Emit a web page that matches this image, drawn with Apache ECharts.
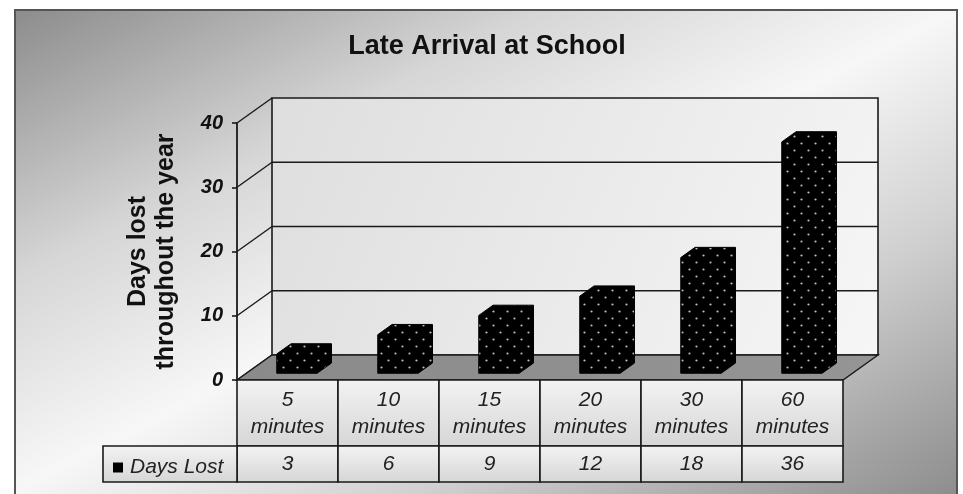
<!DOCTYPE html>
<html>
<head>
<meta charset="utf-8">
<script src="https://cdn.jsdelivr.net/npm/echarts@6/dist/echarts.min.js"></script>
<style>
html,body{margin:0;padding:0;background:#fff;}
#c{width:963px;height:494px;}
</style>
</head>
<body>
<div id="c"></div>
<script>
// ---------- data ----------
const categories = ['5\nminutes', '10\nminutes', '15\nminutes', '20\nminutes', '30\nminutes', '60\nminutes'];
const daysLost = [3, 6, 9, 12, 18, 36];
const yTicks = [0, 10, 20, 30, 40];
const seriesName = 'Days Lost';
const titleText = 'Late Arrival at School';
const yAxisName = 'Days lost\nthroughout the year';

// ---------- layout constants ----------
const FONT = '"Liberation Sans", Arial, sans-serif';
const DX = 35, DY = -25;          // 3D depth offset of the back wall
const BAR_F1 = 0.27, BAR_F2 = 0.68; // bar depth (fraction of box depth)
const BAR_W = 0.40;               // bar front width as fraction of band
const ROW1 = 66, ROW2 = 36;       // data table row heights
const LEGEND_LEFT = 103;
const LINE = '#1a1a1a';

// dotted black fill pattern
const pc = document.createElement('canvas');
pc.width = 14; pc.height = 14;
const g = pc.getContext('2d');
g.fillStyle = '#000'; g.fillRect(0, 0, 14, 14);
g.fillStyle = '#bdbdbd';
g.beginPath(); g.arc(3.5, 3.5, 1.1, 0, Math.PI * 2); g.fill();
g.beginPath(); g.arc(10.5, 10.5, 1.1, 0, Math.PI * 2); g.fill();
const dotPattern = { image: pc, repeat: 'repeat' };

const chart = echarts.init(document.getElementById('c'), null, { renderer: 'canvas' });

function cellFill() {
  return new echarts.graphic.LinearGradient(0, 0, 0, 1, [
    { offset: 0, color: '#f3f3f3' }, { offset: 1, color: '#d6d6d6' }
  ]);
}

function renderWalls(params, api) {
  const cs = params.coordSys;
  const x0 = cs.x, x1 = cs.x + cs.width;
  const yMax = yTicks[yTicks.length - 1];
  const y0 = api.coord([0, 0])[1];
  const yTop = api.coord([0, yMax])[1];
  const bw = api.size([1, 0])[0];
  const ch = [];
  // back wall
  ch.push({
    type: 'polygon',
    shape: { points: [[x0 + DX, yTop + DY], [x1 + DX, yTop + DY], [x1 + DX, y0 + DY], [x0 + DX, y0 + DY]] },
    style: {
      fill: new echarts.graphic.LinearGradient(0, 0, 1, 1, [
        { offset: 0, color: '#dedede' }, { offset: 1, color: '#f6f6f6' }
      ]),
      stroke: LINE, lineWidth: 1.6
    }
  });
  yTicks.forEach(t => {
    const y = api.coord([0, t])[1];
    if (t > 0 && t < yMax) {
      ch.push({ type: 'line', shape: { x1: x0 + DX, y1: y + DY, x2: x1 + DX, y2: y + DY }, style: { stroke: LINE, lineWidth: 1.6 } });
    }
    ch.push({ type: 'line', shape: { x1: x0, y1: y, x2: x0 + DX, y2: y + DY }, style: { stroke: LINE, lineWidth: 1.4 } });
  });
  // floor
  ch.push({
    type: 'polygon',
    shape: { points: [[x0, y0], [x1, y0], [x1 + DX, y0 + DY], [x0 + DX, y0 + DY]] },
    style: {
      fill: new echarts.graphic.LinearGradient(0, 0, 1, 0, [
        { offset: 0, color: '#8a8a8a' }, { offset: 1, color: '#959595' }
      ]),
      stroke: LINE, lineWidth: 1.4
    }
  });
  // data table cells
  for (let i = 0; i < categories.length; i++) {
    const cx = x0 + i * bw;
    ch.push({ type: 'rect', shape: { x: cx, y: y0, width: bw, height: ROW1 }, style: { fill: cellFill(), stroke: LINE, lineWidth: 1.6 } });
    ch.push({ type: 'rect', shape: { x: cx, y: y0 + ROW1, width: bw, height: ROW2 }, style: { fill: cellFill(), stroke: LINE, lineWidth: 1.6 } });
  }
  ch.push({ type: 'rect', shape: { x: LEGEND_LEFT, y: y0 + ROW1, width: x0 - LEGEND_LEFT, height: ROW2 }, style: { fill: cellFill(), stroke: LINE, lineWidth: 1.6 } });
  return { type: 'group', children: ch };
}

function renderBar(params, api) {
  const i = api.value(0), v = api.value(1);
  const base = api.coord([i, 0]);
  const top = api.coord([i, v]);
  const bw = api.size([1, 0])[0];
  const hw = bw * BAR_W / 2;
  const ox1 = DX * BAR_F1, oy1 = DY * BAR_F1, ox2 = DX * BAR_F2, oy2 = DY * BAR_F2;
  const L = base[0] - hw, R = base[0] + hw, yb = base[1], yt = top[1];
  const pts = [
    [L + ox1, yb + oy1], [L + ox1, yt + oy1], [L + ox2, yt + oy2],
    [R + ox2, yt + oy2], [R + ox2, yb + oy2], [R + ox1, yb + oy1]
  ];
  return {
    type: 'polygon',
    shape: { points: pts },
    style: { fill: dotPattern, stroke: '#000', lineWidth: 1, lineJoin: 'round' }
  };
}

function renderValueCell(params, api) {
  const i = api.value(0), v = api.value(1);
  const base = api.coord([i, 0]);
  return {
    type: 'text',
    style: {
      x: base[0], y: base[1] + ROW1 + ROW2 / 2,
      text: String(v),
      align: 'center', verticalAlign: 'middle',
      font: 'italic 21px ' + FONT,
      fill: '#222'
    }
  };
}

const option = {
  animation: false,
  textStyle: { fontFamily: FONT },
  graphic: [{
    type: 'rect', z: -10, silent: true,
    shape: { x: 15, y: 10, width: 942, height: 490 },
    style: {
      fill: new echarts.graphic.LinearGradient(15, 10, 403, 772, [
        { offset: 0, color: '#8c8c8c' },
        { offset: 0.28, color: '#d6d6d6' },
        { offset: 0.5, color: '#f7f7f7' },
        { offset: 0.72, color: '#d0d0d0' },
        { offset: 1, color: '#8e8e8e' }
      ], true),
      stroke: '#555', lineWidth: 2
    }
  }],
  title: {
    text: titleText,
    left: 482, top: 28, textAlign: 'center',
    textStyle: { fontFamily: FONT, fontSize: 27, fontWeight: 'bold', color: '#111' }
  },
  legend: {
    data: [seriesName],
    left: 108, top: 452,
    icon: 'rect', itemWidth: 10, itemHeight: 10,
    textStyle: { fontFamily: FONT, fontSize: 21, fontStyle: 'italic', color: '#222', padding: [0, 0, 0, 2] },
    selectedMode: false
  },
  grid: { left: 237, right: 120, top: 123, bottom: 114, containLabel: false },
  xAxis: {
    type: 'category',
    data: categories,
    z: 10,
    axisLine: { show: false },
    axisTick: { show: false },
    splitLine: { show: false },
    axisLabel: {
      interval: 0, margin: 7,
      fontFamily: FONT, fontSize: 21, fontStyle: 'italic', lineHeight: 27, color: '#222'
    }
  },
  yAxis: {
    type: 'value', min: 0, max: 40, interval: 10,
    axisLine: { show: true, lineStyle: { color: LINE, width: 1.8 } },
    axisTick: { show: true, length: 5, lineStyle: { color: LINE, width: 1.6 } },
    splitLine: { show: false },
    axisLabel: { margin: 14, fontFamily: FONT, fontSize: 20, fontWeight: 'bold', fontStyle: 'italic', color: '#111' },
    name: yAxisName,
    nameLocation: 'middle',
    nameGap: 57,
    nameTextStyle: { fontFamily: FONT, fontSize: 25, fontWeight: 'bold', lineHeight: 28, color: '#111' }
  },
  series: [
    {
      name: 'walls', type: 'custom', z: 1, silent: true,
      renderItem: renderWalls,
      data: [[0, 0]],
      encode: { x: 0, y: 1 }
    },
    {
      name: seriesName, type: 'custom', z: 3,
      itemStyle: { color: '#000' },
      renderItem: renderBar,
      data: daysLost.map((v, i) => [i, v]),
      encode: { x: 0, y: 1 }
    },
    {
      name: 'tableValues', type: 'custom', z: 4, silent: true,
      renderItem: renderValueCell,
      data: daysLost.map((v, i) => [i, v]),
      encode: { x: 0, y: 1 }
    }
  ]
};
chart.setOption(option);
</script>
</body>
</html>
